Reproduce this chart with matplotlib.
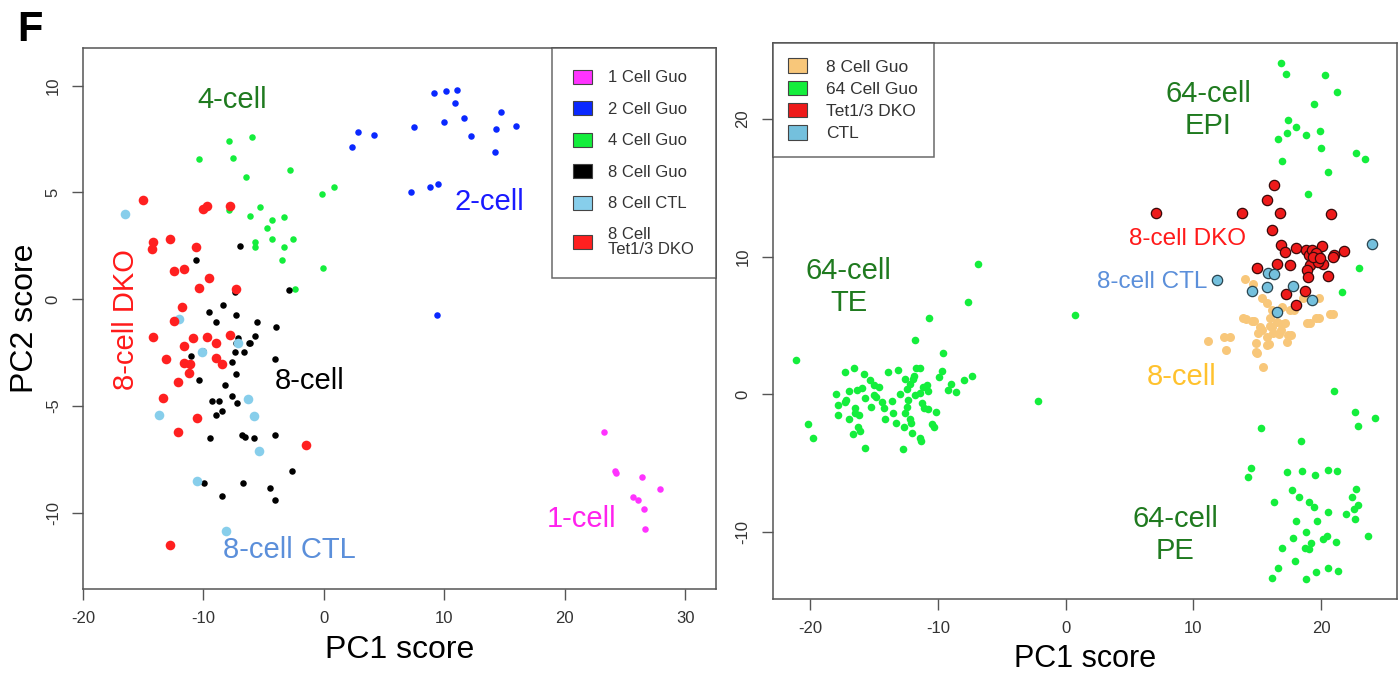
import matplotlib
matplotlib.use("Agg")
import matplotlib.pyplot as plt
from matplotlib.patches import Patch

plt.rcParams['font.family'] = ['Liberation Sans', 'DejaVu Sans']
plt.rcParams['axes.unicode_minus'] = False

# ---- left panel: PCA of Guo embryos + 8 cell CTL / DKO ----
one_x = [23.25, 24.2, 24.25, 26.4, 27.9, 25.7, 26.1, 26.6, 26.7]
one_y = [-6.22, -8.04, -8.13, -8.33, -8.91, -9.27, -9.43, -9.83, -10.79]

two_x = [2.34, 2.80, 4.16, 7.51, 9.15, 10.12, 11.03, 10.92, 9.95, 11.59, 14.72, 14.31, 15.94,
         12.25, 14.19, 7.24, 8.82, 9.45, 9.40]
two_y = [7.13, 7.84, 7.70, 8.06, 9.63, 9.73, 9.80, 9.18, 8.29, 8.46, 8.74, 7.98, 8.09,
         7.65, 6.87, 5.00, 5.23, 5.39, -0.75]

four_x = [-10.33, -7.86, -6.01, -7.56, -6.51, -2.82, -0.19, 0.84, -5.29, -6.12, -4.35, -3.29,
          -4.70, -5.73, -5.76, -4.31, -2.60, -3.29, -3.52, -0.05, -2.44, -7.86]
four_y = [6.56, 7.40, 7.59, 6.60, 5.73, 6.04, 4.93, 5.26, 4.32, 3.89, 3.70, 3.85,
          3.31, 2.68, 2.45, 2.82, 2.82, 2.42, 1.81, 1.45, 0.48, 4.17]

eight_x = [-6.97, -10.61, -2.90, -7.36, -9.53, -8.36, -7.34, -9.00, -5.54, -3.98, -5.76, -7.12,
           -6.26, -6.12, -7.31, -7.36, -6.64, -11.02, -10.02, -7.64, -4.10, -7.31, -10.38, -8.20,
           -9.33, -8.69, -7.67, -7.20, -8.94, -8.42, -9.44, -6.84, -6.59, -5.81, -4.10, -2.63,
           -9.97, -6.72, -8.47, -4.51, -4.06]
eight_y = [2.48, 1.84, 0.44, 0.34, -0.59, -0.28, -0.75, -1.06, -1.06, -1.30, -1.73, -1.84,
           -2.07, -2.05, -2.07, -2.47, -2.50, -2.67, -2.42, -2.94, -2.80, -3.51, -3.79, -4.01,
           -4.78, -4.78, -4.54, -4.87, -5.45, -5.23, -6.51, -6.37, -6.48, -6.52, -6.36, -8.06,
           -8.62, -8.62, -9.23, -8.87, -9.41]

ctl_x = [-16.51, -12.02, -10.13, -7.14, -6.34, -5.79, -13.66, -5.39, -10.55, -8.11]
ctl_y = [3.98, -0.95, -2.50, -2.07, -4.70, -5.49, -5.42, -7.12, -8.54, -10.85]

dko_x = [-15.01, -10.08, -9.67, -7.81, -14.21, -14.29, -12.79, -10.58, -12.46, -11.60, -9.53,
         -10.36, -7.31, -11.80, -12.46, -14.16, -10.91, -9.67, -7.78, -11.60, -8.92, -13.13,
         -11.63, -11.11, -11.16, -8.97, -8.50, -12.08, -13.37, -10.50, -12.08, -1.52, -12.74]
dko_y = [4.62, 4.22, 4.37, 4.34, 2.67, 2.34, 2.81, 2.44, 1.33, 1.39, 0.97,
         0.50, 0.45, -0.36, -1.02, -1.78, -1.84, -1.77, -1.69, -2.20, -2.05, -2.81,
         -3.01, -3.06, -3.48, -2.78, -3.04, -3.89, -4.65, -5.56, -6.23, -6.85, -11.52]

left_labels = ["1 Cell Guo", "2 Cell Guo", "4 Cell Guo", "8 Cell Guo", "8 Cell CTL",
               "8 Cell\nTet1/3 DKO"]
left_colors = ["#FF33FF", "#0A28FF", "#14EE3C", "#000000", "#87CEEB", "#FF2020"]

# ---- right panel: 8 cell + 64 cell Guo, DKO, CTL ----
te_x = [-21.14, -6.87, -7.65, -10.73, -11.78, -9.58, -7.36, -7.99, -8.61, -8.96,
        -9.24, -9.69, -9.95, -11.41, -11.72, -11.88, -12.58, -13.16, -13.94, -15.77,
        -16.60, -17.28, -15.35, -14.99, -14.64, -16.97, -16.37, -15.95, -17.99, -17.18,
        -17.83, -17.28, -17.81, -16.97, -16.48, -16.48, -16.19, -15.72, -15.01, -14.86,
        -15.27, -14.36, -14.21, -13.60, -14.13, -13.55, -12.98, -12.45, -12.19, -11.98,
        -11.82, -11.41, -11.15, -10.88, -10.76, -12.45, -12.33, -12.56, -11.23, -11.10,
        -10.76, -10.16, -12.19, -12.11, -12.66, -13.29, -12.06, -11.41, -11.35, -10.47,
        -10.31, -16.24, -16.11, -16.63, -20.18, -19.76, -15.74, -12.74, 0.70, -2.17]
te_y = [2.51, 9.49, 6.73, 5.52, 3.95, 2.98, 1.35, 1.02, 0.15, 0.73,
        0.31, 1.72, 1.28, 1.93, 1.93, 1.35, 1.11, 1.74, 1.60, 1.50,
        1.89, 1.62, 1.02, 0.68, 0.53, 0.24, 0.31, 0.44, 0.02, -0.41,
        -0.80, -0.58, -1.53, -1.82, -1.02, -1.36, -1.53, -0.29, -0.05, -0.17,
        -0.90, -0.54, -0.97, -0.49, -1.82, -1.34, 0.02, 0.36, 0.75, 1.09,
        -0.07, 0.07, 0.55, 0.68, 0.22, -0.90, -0.41, -1.34, -0.65, -1.02,
        -1.09, -1.29, -1.82, -2.11, -2.40, -2.06, -2.83, -3.20, -3.37, -2.16,
        -2.35, -2.35, -2.69, -2.89, -2.18, -3.18, -3.92, -3.98, 5.78, -0.49]

epi_x = [16.83, 17.23, 20.34, 21.24, 19.41, 17.41, 18.02, 17.31, 16.65, 18.79, 19.89, 19.97,
         22.71, 23.40, 16.96, 20.52, 18.97, 22.95, 21.66]
epi_y = [24.06, 23.30, 23.23, 21.98, 21.08, 19.93, 19.43, 19.00, 18.58, 18.85, 19.16, 17.92,
         17.50, 17.11, 16.94, 16.16, 14.56, 9.18, 7.44]

pe_x = [20.99, 22.69, 24.21, 22.87, 15.30, 18.39, 14.51, 14.28, 17.31, 18.52,
        19.52, 20.55, 21.24, 22.74, 22.40, 22.87, 22.61, 21.92, 22.63, 23.63,
        17.73, 18.23, 19.08, 19.41, 16.28, 20.52, 18.07, 19.70, 18.83, 17.81,
        16.91, 19.21, 18.70, 19.02, 20.16, 20.49, 21.18, 17.94, 16.65, 16.12,
        18.81, 19.57, 20.52, 21.34]
pe_y = [0.25, -1.29, -1.74, -2.27, -2.42, -3.37, -5.33, -6.02, -5.65, -5.55,
        -5.87, -5.50, -5.55, -6.85, -7.43, -8.07, -8.36, -8.68, -9.10, -10.28,
        -6.95, -7.46, -7.83, -8.20, -7.86, -8.56, -9.20, -9.20, -10.03, -10.42,
        -11.16, -10.81, -11.18, -11.28, -10.52, -10.33, -10.72, -12.11, -12.65, -13.36,
        -13.41, -12.94, -12.62, -12.87]

guo8_x = [14.06, 14.69, 15.35, 15.74, 16.96, 16.13, 17.56, 18.61, 19.86, 20.70,
          19.60, 18.87, 17.88, 16.00, 14.61, 13.86, 15.22, 16.00, 16.52, 17.17,
          16.86, 16.26, 15.08, 15.74, 17.43, 17.31, 14.90, 15.74, 12.42, 12.87,
          11.17, 12.55, 14.90, 15.47, 14.12, 14.78, 14.99, 15.38, 16.17, 16.70,
          17.62, 16.96, 19.10, 19.87, 20.92, 15.91]
guo8_y = [8.38, 8.02, 6.98, 6.61, 6.32, 6.13, 6.13, 6.98, 6.98, 5.84,
          5.52, 5.20, 6.13, 5.52, 5.33, 5.52, 4.91, 4.96, 5.28, 5.20,
          4.67, 4.43, 4.43, 4.19, 4.31, 3.82, 3.71, 3.58, 4.19, 4.19,
          3.90, 3.22, 3.10, 2.01, 5.46, 5.29, 3.01, 4.65, 4.90, 4.40,
          4.28, 5.14, 5.19, 5.51, 5.83, 3.67]

dko2_x = [16.31, 15.79, 13.83, 16.80, 20.75, 16.15, 16.88, 17.17, 18.06, 18.84,
          19.08, 20.07, 20.99, 21.77, 20.91, 19.73, 19.50, 20.17, 19.11, 18.92,
          19.00, 20.54, 17.59, 16.52, 15.00, 17.27, 18.76, 18.01, 7.05, 19.29,
          19.60, 19.76, 19.37, 19.91]
dko2_y = [15.19, 14.12, 13.15, 13.15, 13.10, 11.92, 10.87, 10.36, 10.63, 10.49,
          10.12, 10.78, 10.12, 10.44, 9.96, 10.05, 9.76, 9.47, 9.40, 9.03,
          8.50, 8.60, 9.40, 9.47, 9.16, 7.27, 7.51, 6.47, 13.15, 10.49,
          10.27, 9.61, 9.98, 9.90]

ctl2_x = [11.85, 23.99, 15.82, 16.34, 15.79, 14.61, 17.78, 19.26, 16.57]
ctl2_y = [8.31, 10.92, 8.79, 8.74, 7.82, 7.53, 7.87, 6.85, 6.00]

right_labels = ["8 Cell Guo", "64 Cell Guo", "Tet1/3 DKO", "CTL"]
right_colors = ["#F8C77A", "#14EE3C", "#EE1A1A", "#74C0DD"]

AX_COL = "#555555"


def style_axes(ax):
    for sp in ax.spines.values():
        sp.set_color(AX_COL)
        sp.set_linewidth(1.1)
    ax.tick_params(direction='out', length=8, width=1, color=AX_COL,
                   labelsize=12, labelcolor='#333333', pad=8)
    plt.setp(ax.get_yticklabels(), rotation=90, va='center')


fig = plt.figure(figsize=(14, 6.79), dpi=100)

# left
ax1 = fig.add_axes([0.0593, 0.1325, 0.4521, 0.7968])
ax1.scatter(one_x, one_y, s=22, c=left_colors[0], lw=0)
ax1.scatter(two_x, two_y, s=22, c=left_colors[1], lw=0)
ax1.scatter(four_x, four_y, s=22, c=left_colors[2], lw=0)
ax1.scatter(eight_x, eight_y, s=22, c=left_colors[3], lw=0)
ax1.scatter(ctl_x, ctl_y, s=48, c=left_colors[4], lw=0)
ax1.scatter(dko_x, dko_y, s=48, c=left_colors[5], lw=0)
ax1.set_xlim(-20, 32.55)
ax1.set_ylim(-13.58, 11.76)
ax1.set_xticks([-20, -10, 0, 10, 20, 30])
ax1.set_yticks([-10, -5, 0, 5, 10])
style_axes(ax1)
ax1.set_xlabel("PC1 score", fontsize=23, labelpad=6)
ax1.set_ylabel("PC2 score", fontsize=23, labelpad=4)

lab = dict(ha='center', va='center', fontsize=21)
ax1.text(-7.61, 9.32, "4-cell", color="#1F7A1F", **lab)
ax1.text(13.75, 4.54, "2-cell", color="#1A1AFF", **lab)
ax1.text(-16.43, -0.98, "8-cell DKO", color="#FF1A1A", rotation=90, **lab)
ax1.text(-1.21, -3.84, "8-cell", color="black", **lab)
ax1.text(21.4, -10.30, "1-cell", color="#FF22EE", **lab)
ax1.text(-2.88, -11.76, "8-cell CTL", color="#5B8FDA", **lab)

h1 = [Patch(facecolor=c, edgecolor='#444444', lw=0.8) for c in left_colors]
leg1 = ax1.legend(h1, left_labels, loc='upper right', borderaxespad=0, fontsize=12,
                  frameon=True, fancybox=False, edgecolor='#444444', labelspacing=0.95,
                  handlelength=1.1, handleheight=0.9, handletextpad=1.0, borderpad=1.3)
leg1.get_frame().set_linewidth(1.1)
for t in leg1.get_texts():
    t.set_color('#333333')
    t.set_linespacing(0.95)

# right
ax2 = fig.add_axes([0.5519, 0.1184, 0.4456, 0.8187])
ax2.scatter(guo8_x, guo8_y, s=42, c=right_colors[0], lw=0)
ax2.scatter(te_x, te_y, s=30, c=right_colors[1], lw=0)
ax2.scatter(epi_x, epi_y, s=30, c=right_colors[1], lw=0)
ax2.scatter(pe_x, pe_y, s=30, c=right_colors[1], lw=0)
ax2.scatter(dko2_x, dko2_y, s=55, c=right_colors[2], edgecolors='#3A0A0A', lw=0.9)
ax2.scatter(ctl2_x, ctl2_y, s=55, c=right_colors[3], edgecolors='#2A4550', lw=0.9)
ax2.set_xlim(-22.94, 25.9)
ax2.set_ylim(-14.85, 25.55)
ax2.set_xticks([-20, -10, 0, 10, 20])
ax2.set_yticks([-10, 0, 10, 20])
style_axes(ax2)
ax2.set_xlabel("PC1 score", fontsize=22, labelpad=6)

dg = "#1F7A1F"
ax2.text(11.14, 20.66, "64-cell\nEPI", color=dg, linespacing=1.15, **lab)
ax2.text(-16.97, 7.80, "64-cell\nTE", color=dg, linespacing=1.15, **lab)
ax2.text(8.58, -10.23, "64-cell\nPE", color=dg, linespacing=1.15, **lab)
ax2.text(9.11, 1.27, "8-cell", color="#FFC22E", **lab)
ax2.text(9.50, 11.32, "8-cell DKO", color="#FF1A1A", ha='center', va='center', fontsize=17.5)
ax2.text(6.81, 8.18, "8-cell CTL", color="#5B8FDA", ha='center', va='center', fontsize=17.5)

h2 = [Patch(facecolor=c, edgecolor='#444444', lw=0.8) for c in right_colors]
leg2 = ax2.legend(h2, right_labels, loc='upper left', borderaxespad=0, fontsize=12.5,
                  frameon=True, fancybox=False, edgecolor='#444444', labelspacing=0.35,
                  handlelength=1.1, handleheight=0.9, handletextpad=1.1, borderpad=0.9)
leg2.get_frame().set_linewidth(1.1)
for t in leg2.get_texts():
    t.set_color('#333333')

fig.text(0.012, 0.985, "F", fontsize=30, fontweight='bold', va='top', ha='left')

fig.savefig("out.png", dpi=100)
